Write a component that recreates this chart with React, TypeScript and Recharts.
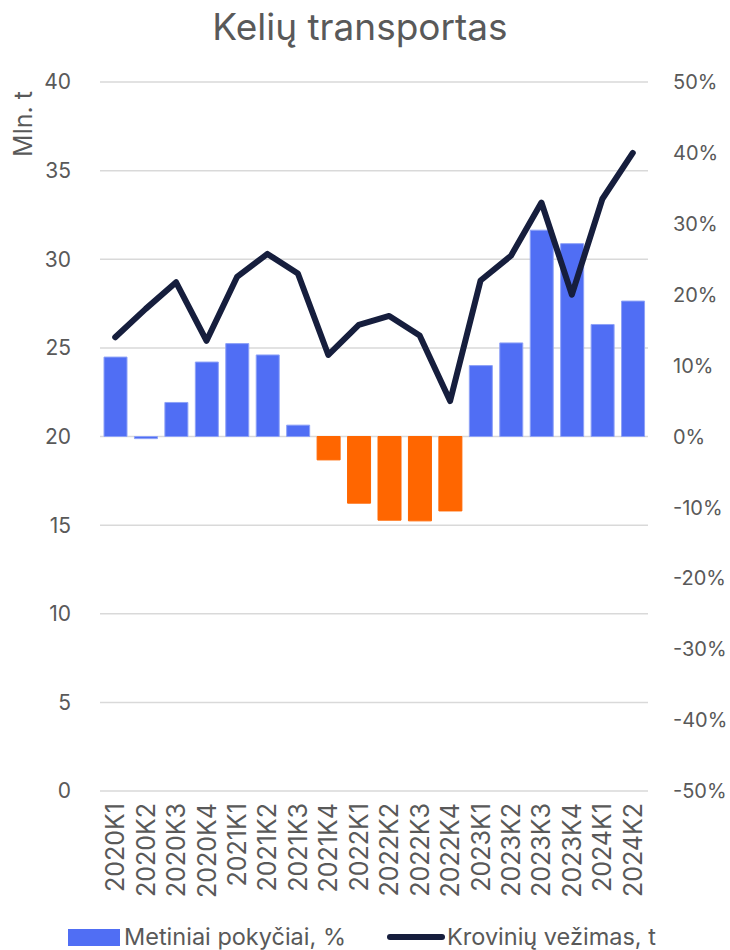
import React from 'react';
import {
  ComposedChart,
  Bar,
  Line,
  XAxis,
  YAxis,
  CartesianGrid,
  Cell,
} from 'recharts';

const quarters = [
  '2020K1', '2020K2', '2020K3', '2020K4',
  '2021K1', '2021K2', '2021K3', '2021K4',
  '2022K1', '2022K2', '2022K3', '2022K4',
  '2023K1', '2023K2', '2023K3', '2023K4',
  '2024K1', '2024K2',
];

// Metiniai pokyčiai, % (right axis)
const yearlyChange = [
  11.2, -0.3, 4.8, 10.5, 13.1, 11.5, 1.6, -3.3, -9.4,
  -11.8, -11.9, -10.5, 10.0, 13.2, 29.1, 27.2, 15.8, 19.1,
];

// Krovinių vežimas, mln. t (left axis)
const freight = [
  25.6, 27.2, 28.7, 25.4, 29.0, 30.3, 29.2, 24.6, 26.3,
  26.8, 25.7, 22.0, 28.8, 30.2, 33.2, 28.0, 33.4, 36.0,
];

const leftTicks = [0, 5, 10, 15, 20, 25, 30, 35, 40];
const rightTicks = [-50, -40, -30, -20, -10, 0, 10, 20, 30, 40, 50];

const FONT = 'Inter, "Noto Sans", sans-serif';
const TEXT = '#595959';
const BLUE = '#506EF4';
const ORANGE = '#FF6600';
const NAVY = '#161E3D';

const data = quarters.map((q, i) => ({
  q,
  change: yearlyChange[i],
  freight: freight[i],
}));

// only clear declines are drawn orange (2020K2 stays blue in the source)
const barColor = (v: number) => (v < -1 ? ORANGE : BLUE);

const XTick = ({ x, y, payload }: any) => (
  <text
    x={x}
    y={y}
    transform={`rotate(-90 ${x} ${y})`}
    textAnchor="end"
    dy="0.36em"
    fill={TEXT}
    fontSize={25}
    fontFamily={FONT}
  >
    {payload.value}
  </text>
);

const App = () => {
  return (
    <div style={{ position: 'absolute', left: 0, top: 0, width: 730, height: 950, background: '#fff', fontFamily: FONT }}>
      <div
        style={{
          position: 'absolute',
          left: 0,
          width: 720,
          top: 4,
          textAlign: 'center',
          fontSize: 37,
          color: TEXT,
        }}
      >
        Kelių transportas
      </div>

      <ComposedChart
        width={730}
        height={950}
        data={data}
        margin={{ top: 82, right: 0, left: 0, bottom: 0 }}
        barSize={23}
      >
        <CartesianGrid yAxisId="left" vertical={false} stroke="#d9d9d9" strokeWidth={1.5} />
        <XAxis
          dataKey="q"
          axisLine={false}
          tickLine={false}
          height={159}
          interval={0}
          tick={<XTick />}
          tickMargin={6}
        />
        <YAxis
          yAxisId="left"
          orientation="left"
          domain={[0, 40]}
          ticks={leftTicks}
          axisLine={false}
          tickLine={false}
          width={100}
          tickMargin={23}
          tick={{ fill: TEXT, fontSize: 21, fontFamily: FONT }}
          label={{
            content: () => (
              <text
                x={23}
                y={124}
                transform="rotate(-90 23 124)"
                textAnchor="middle"
                dominantBaseline="central"
                fill={TEXT}
                fontSize={25}
                fontFamily={FONT}
              >
                Mln. t
              </text>
            ),
          }}
        />
        <YAxis
          yAxisId="right"
          orientation="right"
          domain={[-50, 50]}
          ticks={rightTicks}
          axisLine={false}
          tickLine={false}
          width={82}
          tickMargin={19}
          tickFormatter={(v) => `${v}%`}
          tick={{ fill: TEXT, fontSize: 20, fontFamily: FONT, textAnchor: 'start' }}
        />
        <Bar yAxisId="right" dataKey="change" isAnimationActive={false}>
          {data.map((d, i) => (
            <Cell
              key={`c-${i}`}
              fill={barColor(d.change)}
              stroke={barColor(d.change) === BLUE ? '#8ea2f7' : ORANGE}
              strokeWidth={1}
            />
          ))}
        </Bar>
        <Line
          yAxisId="left"
          dataKey="freight"
          type="linear"
          stroke={NAVY}
          strokeWidth={6}
          strokeLinejoin="round"
          strokeLinecap="round"
          dot={false}
          isAnimationActive={false}
        />
      </ComposedChart>

      {/* legend */}
      <div style={{ position: 'absolute', left: 68, top: 929, width: 52, height: 17, background: BLUE }} />
      <div style={{ position: 'absolute', left: 124, top: 922, fontSize: 23.5, color: TEXT, lineHeight: '30px' }}>
        Metiniai pokyčiai, %
      </div>
      <div style={{ position: 'absolute', left: 387, top: 934, width: 58, height: 6, borderRadius: 3, background: NAVY }} />
      <div style={{ position: 'absolute', left: 447, top: 922, fontSize: 23.5, color: TEXT, lineHeight: '30px' }}>
        Krovinių vežimas, t
      </div>
    </div>
  );
};

export default App;
